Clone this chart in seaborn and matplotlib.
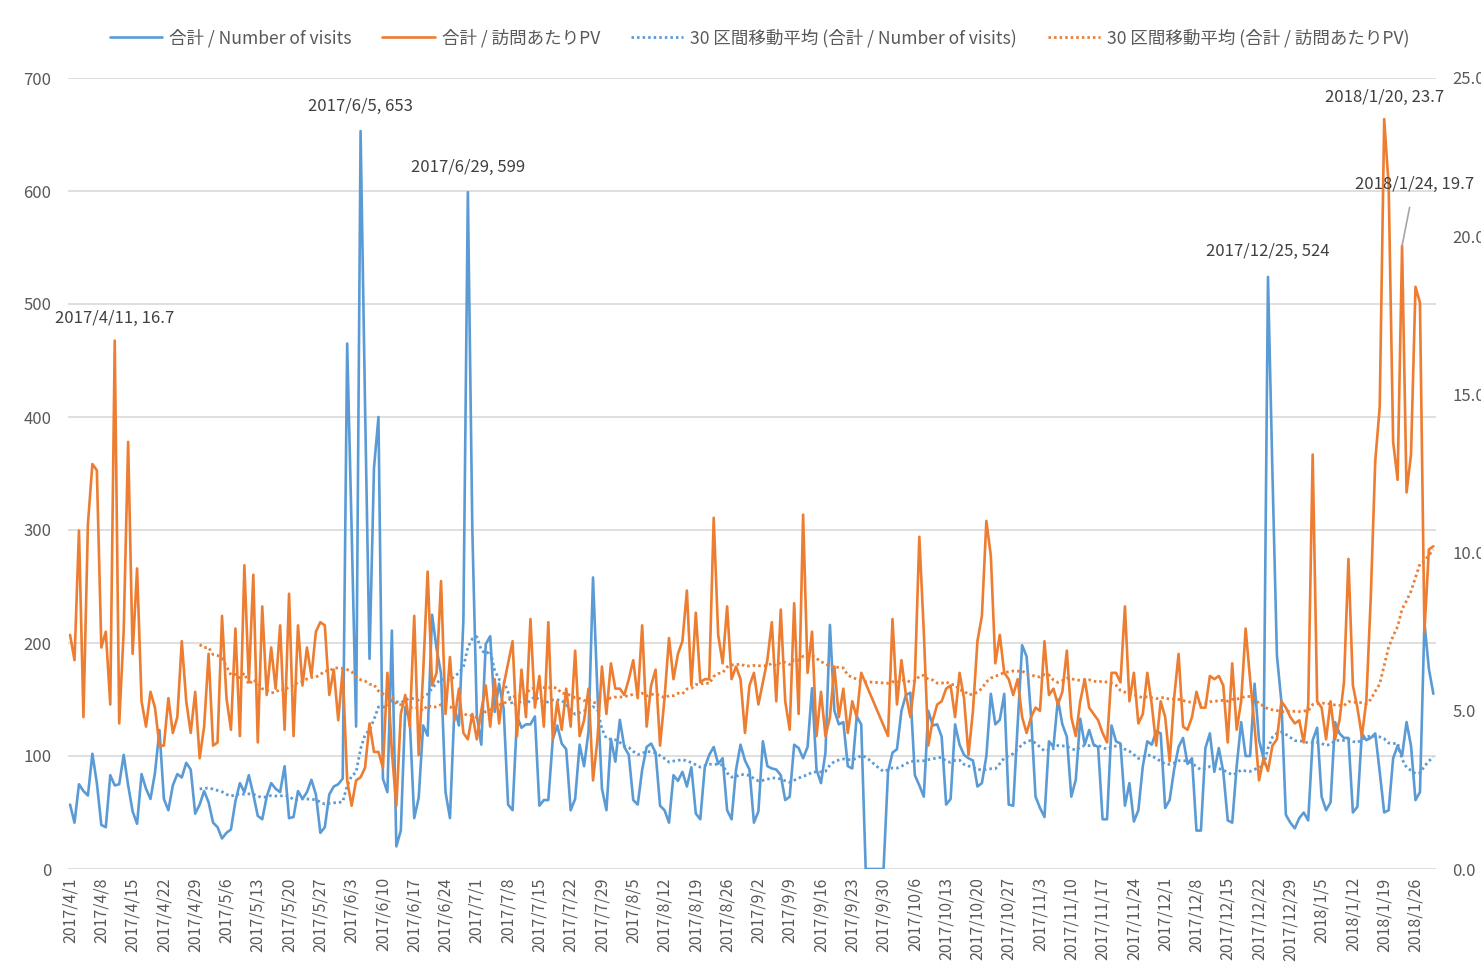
import numpy as np
import pandas as pd
import matplotlib
matplotlib.use("Agg")
import matplotlib.pyplot as plt
from matplotlib.ticker import FormatStrFormatter
import seaborn as sns

# daily values, 2017/4/1 .. 2018/1/31 (category index 0..305)
visits = [
    57, 41, 75, 69, 65, 102, 76, 39, 37, 83,
    74, 75, 101, 74, 51, 40, 84, 71, 62, 85,
    123, 62, 52, 74, 84, 81, 94, 88, 49, 57,
    69, 59, 41, 37, 27, 32, 35, 60, 76, 68,
    83, 66, 47, 44, 64, 76, 71, 68, 91, 45,
    46, 69, 62, 68, 79, 66, 32, 37, 66, 73,
    75, 80, 465, 300, 126, 653, 410, 186, 355, 400,
    80, 68, 211, 20, 34, 143, 132, 45, 63, 127,
    118, 225, 195, 173, 68, 45, 143, 127, 220, 599,
    300, 136, 110, 199, 206, 139, 164, 142, 57, 52,
    135, 125, 128, 128, 135, 56, 61, 61, 115, 127,
    111, 106, 52, 62, 110, 91, 122, 258, 155, 71,
    52, 115, 95, 132, 108, 101, 61, 57, 88, 108,
    111, 103, 56, 52, 41, 83, 78, 86, 73, 90,
    49, 44, 90, 101, 108, 93, 98, 52, 44, 88,
    110, 96, 88, 41, 51, 113, 91, 89, 88, 83,
    61, 64, 110, 107, 98, 108, 160, 88, 76, 103,
    216, 140, 128, 130, 91, 89, 135, 128, 0, 0,
    0, 0, 0, 86, 103, 106, 140, 154, 156, 83,
    74, 64, 140, 127, 128, 117, 57, 62, 128, 110,
    101, 98, 96, 73, 76, 100, 155, 128, 132, 155,
    57, 56, 128, 198, 188, 135, 64, 54, 46, 113,
    108, 150, 128, 117, 64, 79, 133, 110, 123, 110,
    108, 44, 44, 127, 113, 111, 56, 76, 42, 52,
    91, 113, 110, 122, 120, 54, 61, 88, 108, 116,
    93, 98, 34, 34, 107, 120, 86, 107, 86, 43,
    41, 91, 130, 100, 100, 164, 114, 98, 524, 350,
    189, 148, 48, 41, 36, 45, 50, 43, 114, 125,
    64, 52, 59, 130, 120, 116, 116, 50, 55, 120,
    114, 116, 120, 86, 50, 52, 98, 109, 100, 130,
    109, 61, 68, 218, 177, 155,
]

# pv per visit (blank where visits = 0)
pv_per_visit = [
    7.4, 6.6, 10.7, 4.8, 10.9, 12.8, 12.6, 7.0, 7.5, 5.2,
    16.7, 4.6, 7.5, 13.5, 6.8, 9.5, 5.3, 4.5, 5.6, 5.1,
    3.9, 3.9, 5.4, 4.3, 4.8, 7.2, 5.3, 4.3, 5.6, 3.5,
    4.5, 6.8, 3.9, 4.0, 8.0, 5.4, 4.4, 7.6, 4.2, 9.6,
    5.9, 9.3, 4.0, 8.3, 5.5, 7.0, 5.7, 7.7, 4.4, 8.7,
    4.2, 7.7, 5.8, 7.0, 6.1, 7.5, 7.8, 7.7, 5.5, 6.3,
    4.7, 6.3, 2.8, 2.0, 2.8, 2.9, 3.2, 4.6, 3.7, 3.7,
    3.2, 6.2, 3.7, 2.0, 4.9, 5.5, 4.5, 8.0, 3.6, 6.2,
    9.4, 5.8, 6.2, 9.1, 4.9, 6.7, 4.7, 5.7, 4.3, 4.1,
    4.9, 4.1, 5.0, 5.8, 4.5, 6.0, 4.6, 5.8, 6.5, 7.2,
    4.2, 6.3, 4.8, 7.9, 5.1, 6.1, 4.5, 7.8, 4.1, 5.3,
    4.4, 5.7, 4.5, 6.9, 4.2, 4.7, 5.7, 2.8, 4.1, 6.4,
    4.9, 6.5, 5.7, 5.7, 5.5, 6.0, 6.6, 5.4, 7.7, 4.5,
    5.8, 6.3, 3.9, 5.4, 7.3, 6.0, 6.8, 7.2, 8.8, 5.8,
    8.1, 5.9, 6.0, 6.0, 11.1, 7.4, 6.5, 8.3, 6.0, 6.4,
    6.0, 4.3, 5.8, 6.2, 5.2, 5.9, 6.6, 7.8, 5.3, 8.2,
    5.3, 4.4, 8.4, 4.9, 11.2, 6.2, 7.5, 4.2, 5.6, 4.2,
    4.8, 6.4, 4.8, 5.7, 4.3, 5.3, 4.8, 6.2, None, None,
    None, None, None, 4.2, 7.9, 5.2, 6.6, 5.5, 4.8, 6.0,
    10.5, 7.5, 3.9, 4.7, 5.2, 5.3, 5.7, 5.8, 4.8, 6.2,
    5.4, 3.6, 5.0, 7.2, 8.0, 11.0, 9.9, 6.5, 7.4, 6.2,
    6.0, 5.5, 6.0, 4.8, 4.3, 4.8, 5.1, 5.0, 7.2, 5.5,
    5.7, 5.2, 5.6, 6.9, 4.8, 4.2, 5.3, 6.0, 5.1, 4.9,
    4.7, 4.3, 4.0, 6.2, 6.2, 5.9, 8.3, 5.3, 6.2, 4.6,
    4.9, 6.2, 5.2, 3.9, 5.3, 4.8, 3.4, 5.4, 6.8, 4.5,
    4.4, 4.8, 5.6, 5.1, 5.1, 6.1, 6.0, 6.1, 5.8, 4.0,
    6.5, 4.4, 5.3, 7.6, 6.0, 4.5, 2.8, 3.5, 3.1, 3.9,
    4.1, 5.3, 5.1, 4.8, 4.6, 4.7, 4.0, 5.2, 13.1, 5.3,
    5.1, 4.1, 5.3, 4.1, 4.7, 5.9, 9.8, 5.8, 5.1, 4.2,
    5.3, 8.6, 12.9, 14.6, 23.7, 21.6, 13.5, 12.3, 19.7, 11.9,
    13.1, 18.4, 17.9, 7.5, 10.1, 10.2,
]

tick_labels = [
    "2017/4/1", "2017/4/8", "2017/4/15", "2017/4/22", "2017/4/29",
    "2017/5/6", "2017/5/13", "2017/5/20", "2017/5/27", "2017/6/3",
    "2017/6/10", "2017/6/17", "2017/6/24", "2017/7/1", "2017/7/8",
    "2017/7/15", "2017/7/22", "2017/7/29", "2017/8/5", "2017/8/12",
    "2017/8/19", "2017/8/26", "2017/9/2", "2017/9/9", "2017/9/16",
    "2017/9/23", "2017/9/30", "2017/10/6", "2017/10/13", "2017/10/20",
    "2017/10/27", "2017/11/3", "2017/11/10", "2017/11/17", "2017/11/24",
    "2017/12/1", "2017/12/8", "2017/12/15", "2017/12/22", "2017/12/29",
    "2018/1/5", "2018/1/12", "2018/1/19", "2018/1/26",
]

# data labels: (category index, text)
labels_visits = [(65, "2017/6/5, 653"), (89, "2017/6/29, 599"), (268, "2017/12/25, 524")]
labels_pv = [(10, "2017/4/11, 16.7"), (294, "2018/1/20, 23.7")]
label_pv_leader = (298, "2018/1/24, 19.7")

leg_names = ["合計 / Number of visits", "合計 / 訪問あたりPV",
             "30 区間移動平均 (合計 / Number of visits)", "30 区間移動平均 (合計 / 訪問あたりPV)"]

BLUE = "#5B9BD5"
ORANGE = "#ED7D31"
GRID = "#D9D9D9"
TXT = "#595959"

sns.set_style("white")
plt.rcParams['font.family'] = ['Noto Sans CJK JP', 'DejaVu Sans']

df = pd.DataFrame({"day": np.arange(len(visits)), "visits": visits,
                   "pv": pd.to_numeric(pd.Series(pv_per_visit), errors="coerce")})
df["visits_ma"] = df["visits"].rolling(30).mean()
pv_df = df.dropna(subset=["pv"]).copy()
pv_df["pv_ma"] = pv_df["pv"].rolling(30).mean()

W, H = 1481, 975
fig = plt.figure(figsize=(W / 100, H / 100), dpi=100)
x0, x1, y0, y1 = 67.8, 1435.6, 78, 869
ax = fig.add_axes([x0 / W, 1 - y1 / H, (x1 - x0) / W, (y1 - y0) / H])
ax2 = ax.twinx()

dot = (0, (0.9, 1.1))
sns.lineplot(data=df, x="day", y="visits", ax=ax, color=BLUE, lw=1.9, legend=False)
sns.lineplot(data=df, x="day", y="visits_ma", ax=ax, color=BLUE, lw=2.0,
             linestyle=dot, legend=False)
sns.lineplot(data=pv_df, x="day", y="pv", ax=ax2, color=ORANGE, lw=1.9, legend=False)
sns.lineplot(data=pv_df, x="day", y="pv_ma", ax=ax2, color=ORANGE, lw=2.0,
             linestyle=dot, legend=False)

ax.set_xlim(-0.5, len(visits) - 0.5)
ax.set_ylim(0, 700)
ax2.set_ylim(0, 25)
ax.set_yticks(range(0, 701, 100))
ax2.set_yticks([0, 5, 10, 15, 20, 25])
ax2.yaxis.set_major_formatter(FormatStrFormatter('%.1f'))
ax.set_xticks(np.arange(0, len(visits), 7)[:len(tick_labels)])
ax.set_xticklabels(tick_labels, rotation=90)
ax.set_xlabel("")
ax.set_ylabel("")
ax2.set_ylabel("")
ax.yaxis.grid(True, color=GRID, lw=1.2)
ax.set_axisbelow(True)
for a in (ax, ax2):
    for s in a.spines.values():
        s.set_visible(False)
ax.tick_params(axis="x", length=0, pad=6, labelsize=11.5, labelcolor=TXT)
ax.tick_params(axis="y", length=0, pad=12, labelsize=12, labelcolor=TXT)
ax2.tick_params(axis="y", length=0, pad=12, labelsize=12, labelcolor=TXT)

ann_kw = dict(textcoords="offset pixels", ha="center", va="center",
              fontsize=12, color="#404040")
for d, txt in labels_visits:
    ax.annotate(txt, (d, visits[d]), xytext=(0, 25), **ann_kw)
for d, txt in labels_pv:
    ax2.annotate(txt, (d, pv_per_visit[d]), xytext=(0, 22), **ann_kw)
d, txt = label_pv_leader
ax2.annotate(txt, (d, pv_per_visit[d]), xytext=(12, 61),
             arrowprops=dict(arrowstyle="-", color="#A6A6A6", lw=1.2,
                             shrinkA=8, shrinkB=0), **ann_kw)

handles = [ax.lines[0], ax2.lines[0], ax.lines[1], ax2.lines[1]]
fig.legend(handles, leg_names, loc="center", bbox_to_anchor=(0.513, 0.961),
           ncol=4, frameon=False, fontsize=12.6, handlelength=3.0,
           handletextpad=0.4, columnspacing=1.75, labelcolor=TXT)

fig.savefig("out.png", dpi=100)
